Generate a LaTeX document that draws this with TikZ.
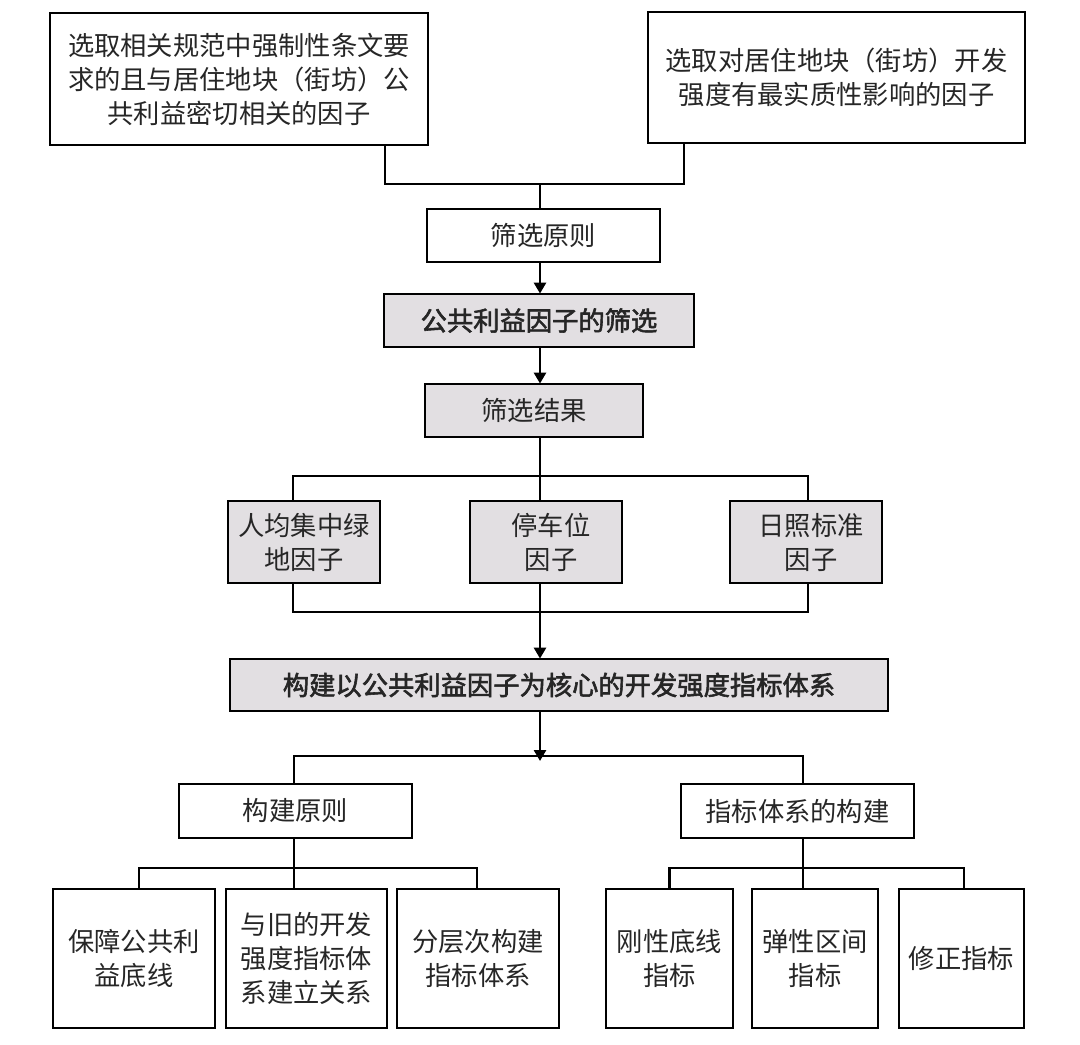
\documentclass[tikz,border=0pt]{standalone}
\usepackage{fontspec}
\newfontfamily\cjk{Noto Sans CJK SC}
\newfontfamily\cjkb[FakeBold=2.2]{Noto Sans CJK SC}
\usetikzlibrary{arrows.meta}
\definecolor{boxgray}{RGB}{226,223,226}
\begin{document}
\begin{tikzpicture}[x=1pt,y=-1pt,
  box/.style={draw=black, line width=2.8pt, inner sep=0pt, align=center,
    font=\cjk\fontsize{26.3}{34}\selectfont, text=black!85},
  graybox/.style={box, fill=boxgray},
  boldbox/.style={graybox, font=\cjkb\fontsize{26.3}{34}\selectfont},
  conn/.style={draw=black, line width=2.6pt},
  arr/.style={conn, -{Triangle[length=11pt,width=12pt]}, shorten >=-1pt}]
\useasboundingbox (0,0) rectangle (1080,1045);
\fill[white] (0,0) rectangle (1080,1045);

% top boxes
\node[box, minimum width=378, minimum height=132] (n1) at (239,79)
  {选取相关规范中强制性条文要\\求的且与居住地块（街坊）公\\共利益密切相关的因子};
\node[box, minimum width=377, minimum height=131] (n2) at (836.5,77.5)
  {选取对居住地块（街坊）开发\\强度有最实质性影响的因子};
\node[box, minimum width=233, minimum height=53] (n3) at (543.5,235.5) {筛选原则};
\node[boldbox, minimum width=310, minimum height=53] (n4) at (539,320.5) {公共利益因子的筛选};
\node[graybox, minimum width=218, minimum height=53] (n5) at (534,410.5) {筛选结果};

% factors
\node[graybox, minimum width=152, minimum height=82] (n6) at (304,542) {人均集中绿\\地因子};
\node[graybox, minimum width=152, minimum height=82] (n7) at (546,542) {\hspace*{10pt}停车位\\\hspace*{10pt}因子};
\node[graybox, minimum width=152, minimum height=82] (n8) at (806,542) {\hspace*{10pt}日照标准\\\hspace*{10pt}因子};

\node[boldbox, minimum width=658, minimum height=52] (n9) at (559,685) {构建以公共利益因子为核心的开发强度指标体系};

\node[box, minimum width=233, minimum height=54] (n10) at (295.5,811) {构建原则};
\node[box, minimum width=233, minimum height=54] (n11) at (797.5,811) {指标体系的构建};

% bottom row
\node[box, minimum width=162, minimum height=139] (b1) at (134,958.5) {保障公共利\\益底线};
\node[box, minimum width=161, minimum height=139] (b2) at (306.5,958.5) {与旧的开发\\强度指标体\\系建立关系};
\node[box, minimum width=162, minimum height=139] (b3) at (478,958.5) {分层次构建\\指标体系};
\node[box, minimum width=127, minimum height=139] (b4) at (669.5,958.5) {刚性底线\\指标};
\node[box, minimum width=126, minimum height=139] (b5) at (815,958.5) {弹性区间\\指标};
\node[box, minimum width=125, minimum height=139] (b6) at (961.5,958.5) {修正指标};

% helper coordinates
\coordinate (jTop) at (540,184);
\coordinate (jMid1) at (540,476);
\coordinate (jMid2) at (540,612);
\coordinate (jLow) at (540,756);
\coordinate (jL) at (294,868);
\coordinate (jR) at (803,868);

% connectors top
\draw[conn] ([xshift=146pt]n1.south) |- (jTop) -| ([xshift=-152.5pt]n2.south);
\draw[conn] (jTop) -- (n3.north -| jTop);
\draw[arr] (n3.south -| jTop) -- (n4.north -| jTop);
\draw[arr] (n4.south -| jTop) -- (n5.north -| jTop);

% to factors
\draw[conn] (n5.south -| jMid1) -- (jMid1);
\draw[conn] ([xshift=-11pt]n6.north) |- (jMid1) -| ([xshift=2pt]n8.north);
\draw[conn] (jMid1) -- (n7.north -| jMid1);

% from factors
\draw[conn] ([xshift=-11pt]n6.south) |- (jMid2) -| ([xshift=2pt]n8.south);
\draw[conn] (n7.south -| jMid2) -- (jMid2);
\draw[arr] (jMid2) -- (n9.north -| jMid2);

% to construction
\draw[arr] (n9.south -| jLow) -- ([yshift=-4pt]jLow);
\draw[conn] (n10.north -| jL) |- (jLow) -| (n11.north -| jR);

% bottom left
\draw[conn] (n10.south -| jL) -- (jL);
\draw[conn] ([xshift=5pt]b1.north) |- (jL) -| ([xshift=-1pt]b3.north);
\draw[conn] (jL) -- (b2.north -| jL);

% bottom right
\draw[conn] (n11.south -| jR) -- (jR);
\draw[conn] (b4.north) |- (jR) -| ([xshift=2.5pt]b6.north);
\draw[conn] (jR) -- (b5.north -| jR);
\end{tikzpicture}
\end{document}
